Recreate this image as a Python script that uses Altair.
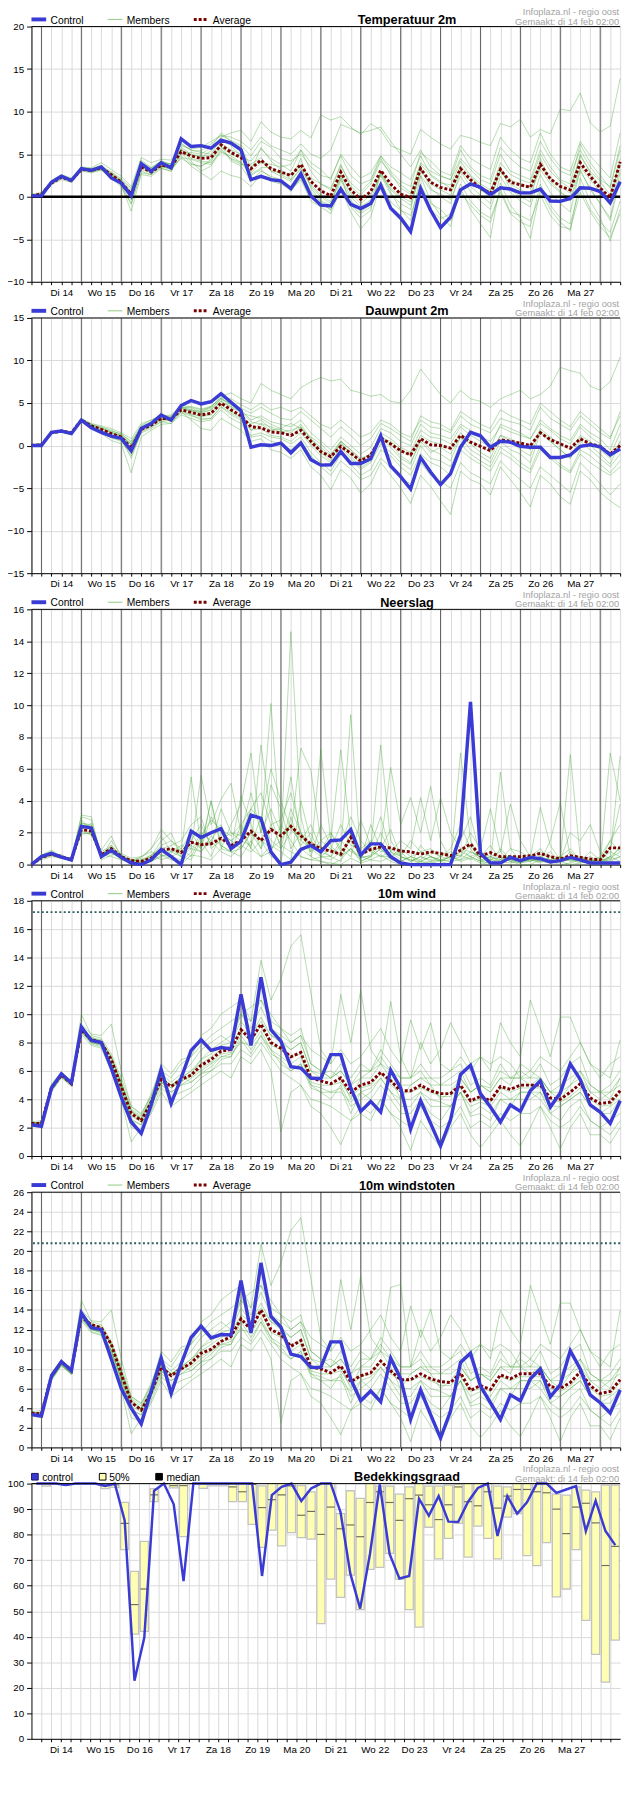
import json
import altair as alt
import pandas as pd

# ---------------- data ----------------
STEPS = list(range(60))  # 6-hourly steps, 0 = ma 13 feb 18:00
DAY_LABELS = ["Di 14", "Wo 15", "Do 16", "Vr 17", "Za 18", "Zo 19", "Ma 20",
              "Di 21", "Wo 22", "Do 23", "Vr 24", "Za 25", "Zo 26", "Ma 27"]
DAY_LINES = [1, 5, 9, 13, 17, 21, 25, 29, 33, 37, 41, 45, 49, 53, 57]
TITLES = ["Temperatuur 2m", "Dauwpunt 2m", "Neerslag", "10m wind", "10m windstoten", "Bedekkingsgraad"]
SOURCE_1 = "Infoplaza.nl - regio oost"
SOURCE_2 = "Gemaakt: di 14 feb 02:00"

TEMP_CONTROL = [0.1,0.1,1.7,2.4,1.9,3.3,3.1,3.5,2.2,1.6, 0.1,3.9,3.0,4.0,3.4,6.8,5.9,6.0,5.7,6.65,
                6.3,5.5,2.0,2.4,2.0,1.85,0.95,2.7,0.1,-1.0, -1.1,0.9,-0.9,-1.4,-0.8,1.35,-1.35,-2.5,-4.1,0.95,
                -1.6,-3.65,-2.4,0.8,1.5,1.1,0.25,1.05,0.9,0.45, 0.45,0.9,-0.5,-0.55,-0.2,1.05,1.0,0.6,-0.7,1.75]
TEMP_AVERAGE = [0.1,0.3,1.6,2.3,1.9,3.2,3.1,3.4,2.6,1.7, 0.3,3.5,2.9,3.7,3.5,5.3,4.8,4.5,4.6,6.1,
                5.2,4.6,3.3,4.3,3.3,2.9,2.5,3.8,1.8,0.7, 0.1,2.9,0.8,-0.3,0.6,3.1,1.5,0.3,-0.1,3.3,
                1.7,1.1,0.8,3.3,2.0,1.0,0.4,3.2,1.7,1.4, 1.1,3.8,2.1,1.2,0.8,4.0,2.4,1.0,-0.1,4.1]
TEMP_MEMBERS = [
    [0.2,0.4,1.8,2.5,2.0,3.4,3.0,3.6,2.8,2.0, 0.8,4.3,3.4,4.2,3.8,5.8,5.0,4.6,5.4,7.0, 7.5,7.8,6.5,8.8,7.6,7.0,6.8,7.8,6.9,9.6,
     9.0,9.4,8.2,7.3,8.6,7.8,6.0,5.5,5.0,7.9, 7.0,6.2,5.6,7.2,6.9,6.4,6.0,8.6,8.2,9.1, 7.0,7.9,7.4,10.3,10.1,12.2,8.7,7.6,8.3,13.9],
    [0.0,0.2,1.5,2.2,1.8,3.0,2.8,3.2,2.4,1.3, -1.7,2.6,2.4,3.3,3.0,5.6,4.2,3.0,3.6,5.4, 4.5,4.0,3.0,5.8,4.2,3.2,2.0,4.5,1.0,-0.5,
     -1.0,2.5,-1.2,-2.5,-1.6,3.0,0.5,-1.5,-2.8,2.4, -0.5,-2.2,-3.5,1.0,-1.5,-3.2,-4.8,1.6,-1.0,-2.5, -4.9,0.8,-1.5,-3.0,-4.0,2.2,-0.5,-2.5,-5.2,-1.5],
    [0.1,0.3,1.7,2.4,1.9,3.3,3.3,3.4,2.5,1.8, 0.4,3.7,3.1,3.5,3.4,5.0,5.2,5.0,5.8,7.5, 6.5,5.8,3.5,4.2,3.0,2.8,2.6,3.6,2.2,1.5,
     0.8,3.6,1.6,0.6,1.8,4.5,2.5,1.4,0.5,4.0, 3.0,2.4,2.0,4.5,3.2,2.0,1.5,5.0,3.0,2.5, 2.0,5.5,3.5,2.0,1.5,6.2,4.0,2.5,1.0,5.5],
    [0.2,0.2,1.6,2.3,2.1,3.2,3.1,3.5,2.6,1.5, 0.0,3.2,2.8,3.9,3.6,5.5,4.5,4.2,4.0,5.2, 4.8,4.0,2.5,3.2,2.2,1.8,1.2,3.0,0.6,-0.6,
     -1.6,2.0,-0.4,-1.8,-0.9,2.5,0.3,-0.8,-1.5,3.5, 1.0,0.0,-0.8,3.0,1.2,0.2,-0.8,3.5,0.8,0.0, -0.6,4.5,1.8,0.6,-0.5,3.0,1.0,-0.8,-2.5,2.8],
    [0.0,0.1,1.4,2.0,1.7,3.1,2.9,3.1,2.2,1.7, 0.6,3.5,3.2,3.6,3.2,4.5,3.8,3.6,4.2,5.8, 5.0,4.6,4.2,5.6,4.5,3.8,3.0,5.5,3.0,1.5,
     1.0,3.8,1.2,0.2,1.5,4.2,2.8,1.0,0.3,3.8, 2.5,1.6,1.4,4.2,2.5,1.5,0.8,3.0,2.0,1.5, 1.0,3.5,2.2,1.2,0.4,5.0,2.8,1.2,-0.5,4.5],
    [0.1,0.2,1.7,2.5,2.0,3.3,3.2,3.3,2.7,1.9, -0.4,3.6,3.0,3.8,3.7,5.6,4.9,4.8,4.8,6.3, 5.5,5.0,2.6,3.4,3.5,2.6,2.0,3.2,1.4,0.2,
     -0.6,2.6,0.4,-0.8,0.2,2.6,0.8,-0.2,-1.0,2.5, 0.8,0.3,-0.3,2.4,0.6,-0.5,-1.5,2.4,0.5,-0.5, -1.2,2.6,0.5,-0.8,-1.8,3.2,0.8,-0.8,-2.8,2.0],
    [0.3,0.5,1.9,2.6,2.2,3.5,3.4,4.0,3.2,2.4, 1.2,4.6,4.0,4.4,4.3,6.0,5.6,5.8,6.5,7.2, 7.0,6.5,5.5,7.0,6.0,5.5,5.0,6.2,5.0,4.5,
     5.5,8.5,8.0,7.5,7.8,8.2,6.5,5.0,3.5,5.5, 3.5,2.5,2.0,5.5,3.5,2.5,2.0,5.8,4.5,3.5, 3.0,6.5,4.5,3.0,2.5,5.5,3.5,2.0,1.2,6.0],
    [0.1,0.3,1.6,2.3,1.8,3.2,3.0,3.3,2.3,1.4, -0.8,3.0,2.6,3.4,3.0,4.8,3.6,2.8,2.0,3.0, 2.5,2.2,1.2,2.6,1.8,1.5,0.8,2.0,-0.5,-1.2,
     -2.0,1.0,-1.8,-3.8,-2.4,1.5,-1.5,-2.8,-4.4,1.0, -1.5,-2.6,-2.0,1.5,-0.5,-1.8,-2.5,0.5,-2.0,-3.0, -3.5,1.5,-1.0,-2.5,-3.2,1.2,-1.5,-3.0,-4.2,-0.5],
    [0.0,0.2,1.6,2.4,1.9,3.1,3.2,3.6,2.9,2.1, 1.0,3.8,3.3,3.9,3.9,6.2,5.5,5.2,5.0,6.8, 6.0,4.8,2.8,4.0,3.8,3.5,3.8,5.5,4.0,3.2,
     2.0,5.0,3.5,2.2,2.8,4.8,3.0,1.8,1.2,5.2, 4.2,3.0,2.5,6.0,4.5,3.8,3.2,7.0,5.5,4.5, 4.0,7.5,5.0,3.5,3.0,6.5,4.8,3.5,2.2,7.5],
    [0.1,0.1,1.5,2.2,1.7,3.3,2.9,3.2,2.1,1.2, -0.9,2.8,2.6,3.6,3.2,5.2,3.9,3.5,4.4,6.0, 4.2,3.6,1.8,3.0,2.4,2.0,0.6,2.2,-0.2,-0.8,
     -1.5,1.2,-1.0,-2.0,-1.2,1.8,-0.6,-1.6,-2.2,1.4, -0.8,-1.5,-2.8,0.5,-1.0,-2.2,-3.0,0.8,-1.8,-2.2, -2.8,0.2,-2.2,-3.5,-3.8,0.5,-1.8,-3.5,-4.8,-2.0],
    [0.2,0.4,1.8,2.5,2.1,3.4,3.3,3.7,2.7,1.8, 0.5,4.1,3.4,4.2,3.8,6.3,5.4,5.4,6.2,7.2, 6.6,6.0,4.8,6.5,5.8,4.5,4.2,5.0,3.5,2.5,
     2.2,4.8,2.5,1.5,2.0,4.8,3.5,2.8,2.0,4.8, 2.6,1.8,1.0,3.6,2.4,1.2,0.6,4.0,2.6,2.0, 1.6,5.0,3.0,1.8,1.0,4.8,3.0,1.8,0.2,4.0],
    [0.0,0.2,1.6,2.3,1.8,3.2,3.0,3.4,2.5,1.6, 0.2,3.4,2.9,3.7,3.3,4.6,4.4,4.0,3.8,5.6, 4.4,3.8,3.8,4.6,3.0,2.4,1.8,3.4,1.2,0.0,
     -0.8,2.2,0.0,-1.2,-0.4,2.8,1.0,0.0,-0.6,3.0, 1.5,0.8,0.2,3.2,1.8,0.8,0.0,3.0,1.5,0.8, 0.4,3.2,1.5,0.5,-0.2,3.5,2.0,0.5,-1.0,3.2],
]

DEW_CONTROL = [0.0,0.0,1.55,1.7,1.4,3.0,2.1,1.55,1.1,0.85, -0.6,2.0,2.6,3.6,3.0,4.7,5.3,4.9,5.15,6.1,
               5.1,4.1,-0.2,0.1,0.0,0.3,-0.85,0.3,-1.65,-2.3, -2.25,-0.7,-2.1,-2.1,-1.55,1.15,-2.4,-3.65,-5.1,-1.4,
               -3.1,-4.6,-3.3,-0.2,1.55,1.15,-0.2,0.5,0.4,-0.1, -0.2,-0.2,-1.4,-1.4,-1.1,-0.1,0.1,-0.15,-1.1,-0.4]
DEW_AVERAGE = [0.0,0.1,1.5,1.7,1.5,3.0,2.3,1.9,1.4,1.0, -0.3,1.9,2.4,3.2,3.1,4.2,3.9,3.6,3.8,5.0,
               4.2,3.5,2.2,2.1,1.6,1.5,1.2,1.8,0.5,-0.7, -1.3,-0.1,-0.9,-1.8,-1.1,0.9,0.2,-0.6,-1.1,0.8,
               0.1,0.0,-0.3,1.2,0.4,-0.1,-0.6,0.7,0.5,0.3, 0.0,1.5,0.7,0.2,-0.3,0.8,0.2,-0.1,-1.0,0.0]
DEW_MEMBERS = [
    [0.1,0.2,1.6,1.8,1.6,3.1,2.5,2.2,1.8,1.3, 0.5,2.4,3.0,3.5,3.6,4.8,4.5,4.2,4.5,5.8, 6.2,5.5,5.0,7.3,6.5,6.0,5.5,6.8,7.5,8.0,
     7.6,7.8,6.5,6.2,5.8,6.0,5.2,5.0,6.5,9.0, 7.5,6.0,5.0,6.5,5.5,5.2,4.5,5.5,6.0,6.5, 5.5,6.0,7.0,9.2,8.8,8.5,7.0,6.5,7.5,10.4],
    [-0.1,0.0,1.4,1.6,1.3,2.8,2.0,1.4,0.6,0.2, -3.2,1.0,1.8,2.5,2.6,4.0,3.0,2.0,1.8,3.2, 2.5,1.8,0.5,0.8,-0.5,-0.8,-1.5,-0.5,-2.5,-3.5,
     -5.2,-2.8,-3.8,-5.6,-4.5,-2.0,-3.5,-5.0,-6.8,-3.5, -4.8,-6.5,-8.1,-3.0,-4.0,-4.5,-5.8,-2.5,-4.0,-5.5, -7.2,-3.5,-4.5,-6.0,-6.9,-3.0,-4.0,-5.5,-6.5,-7.3],
    [0.0,0.1,1.5,1.7,1.5,3.0,2.4,2.0,1.5,1.1, 0.0,2.2,2.5,3.0,3.3,4.5,4.2,3.8,4.2,5.5, 4.8,4.2,3.0,3.5,2.8,2.5,2.2,3.0,1.5,0.5,
     -0.5,1.0,0.0,-1.0,-0.2,2.0,1.5,0.5,0.0,2.5, 1.5,1.2,0.8,2.5,1.8,1.0,0.5,2.2,1.6,1.2, 0.8,3.0,2.0,1.2,0.6,2.5,1.5,0.8,-0.5,2.5],
    [0.1,0.1,1.6,1.7,1.4,3.1,2.2,1.7,1.2,0.8, -1.5,1.6,2.2,3.3,2.8,3.8,3.5,3.2,3.2,4.5, 3.6,3.0,1.2,1.5,1.0,0.8,0.2,1.0,-0.8,-2.0,
     -3.0,-1.0,-2.2,-3.5,-2.8,-0.5,-1.2,-2.5,-3.5,-1.0, -2.0,-2.5,-3.5,-0.5,-1.5,-2.2,-3.0,-0.8,-1.5,-2.5, -3.2,-0.5,-1.5,-2.5,-3.2,-1.0,-2.0,-2.8,-3.5,-2.5],
    [0.0,0.0,1.4,1.7,1.6,2.9,2.3,1.8,1.3,1.0, 0.2,2.3,2.8,3.0,3.2,4.4,4.0,3.5,3.8,5.2, 4.5,3.8,3.5,3.2,2.5,2.0,2.6,2.0,1.0,0.2,
     -1.0,0.5,-0.5,-1.5,-1.0,1.2,0.2,-1.2,-2.0,0.5, -0.8,-0.2,-1.0,1.0,-0.5,-1.2,-2.0,0.5,-0.5,-1.0, -2.0,1.5,0.5,-0.5,-1.5,0.5,-0.5,-1.5,-2.5,-1.0],
    [0.1,0.2,1.5,1.8,1.5,3.2,2.6,2.3,2.0,1.5, 0.8,2.6,3.0,3.6,3.4,4.5,4.2,4.0,4.6,5.6, 5.5,4.8,4.2,5.0,4.2,4.5,4.0,4.5,3.5,2.5,
     2.0,3.0,2.0,1.0,1.5,3.0,2.5,1.5,1.0,3.0, 2.2,2.0,1.5,3.5,2.5,2.0,1.5,3.2,2.8,2.5, 1.8,4.5,3.2,2.5,1.8,3.5,2.5,1.5,0.8,4.0],
    [0.0,0.1,1.6,1.6,1.4,3.0,2.1,1.6,1.0,0.6, -0.8,1.8,2.2,2.8,3.0,4.0,3.6,3.0,3.2,4.6, 3.8,3.2,1.8,2.0,1.2,1.0,0.5,1.5,0.0,-1.2,
     -2.0,-0.2,-1.5,-2.8,-2.0,0.2,-0.8,-2.0,-2.8,0.0, -1.5,-1.8,-2.5,0.2,-1.0,-1.8,-2.5,-0.2,-1.0,-2.0, -2.8,0.0,-1.2,-2.2,-3.0,-0.5,-1.2,-2.2,-3.2,-1.8],
    [0.1,0.1,1.5,1.7,1.5,3.0,2.4,2.0,1.6,1.2, 0.2,2.0,2.6,3.4,3.2,4.3,4.1,3.9,4.2,5.2, 4.6,4.0,2.8,2.5,1.8,2.0,1.5,2.5,0.8,-0.5,
     -1.5,0.2,-0.8,-2.2,-1.4,1.5,0.8,-0.2,-0.8,1.8, 1.0,0.8,0.2,2.2,1.2,0.5,-0.2,2.5,2.0,1.5, 0.8,2.6,1.8,0.8,0.2,2.2,1.0,0.2,-1.2,1.5],
    [0.0,0.0,1.5,1.7,1.4,3.0,2.2,1.6,1.2,0.9, -1.0,2.1,2.7,3.8,3.1,4.4,4.6,4.3,4.6,5.6, 4.8,3.9,1.8,2.6,2.2,1.8,1.0,2.2,0.2,-0.8,
     -1.8,0.5,-1.2,-2.6,-1.8,1.0,-0.2,-1.5,-2.2,0.8, -0.5,-1.0,-1.8,1.0,0.2,-0.8,-1.5,1.2,0.5,-0.5, -1.2,1.8,0.5,-0.5,-1.5,1.0,0.0,-1.0,-2.2,0.5],
    [0.1,0.2,1.6,1.8,1.6,3.1,2.5,2.1,1.7,1.4, 0.4,2.1,2.5,3.2,3.5,4.6,4.4,4.0,4.4,5.4, 5.0,4.4,3.8,4.5,3.8,3.2,3.0,4.0,3.0,2.0,
     1.0,2.2,1.2,0.0,0.8,2.6,2.0,1.2,0.5,3.5, 2.8,2.5,1.8,4.0,3.2,2.5,2.0,4.2,3.5,3.0, 2.5,5.0,4.0,3.0,2.2,4.0,3.0,2.0,1.0,3.5],
    [0.0,0.1,1.4,1.6,1.3,2.9,2.0,1.5,0.9,0.5, -1.2,1.5,2.0,2.8,2.6,3.6,3.2,2.8,3.0,4.2, 3.2,2.6,1.0,1.2,0.5,0.2,-0.5,0.5,-1.2,-2.5,
     -3.5,-1.8,-2.8,-4.0,-3.5,-1.5,-2.5,-3.8,-4.5,-2.0, -3.5,-4.2,-5.0,-2.0,-3.2,-3.8,-4.5,-1.8,-3.0,-4.0, -5.0,-2.5,-3.5,-4.5,-5.5,-2.0,-3.2,-4.5,-5.8,-4.5],
    [0.1,0.1,1.6,1.7,1.5,3.0,2.3,2.0,1.5,1.2, 0.1,2.0,2.4,3.1,3.0,4.1,3.7,3.4,3.6,4.8, 4.0,3.4,2.5,3.0,2.0,1.6,1.8,2.2,0.8,-0.2,
     -1.2,0.5,-0.5,-1.8,-1.0,0.8,0.5,-0.5,-1.2,1.2, 0.5,0.2,-0.5,1.5,0.5,0.0,-0.8,1.2,0.8,0.2, -0.5,2.0,1.0,0.2,-0.5,1.2,0.5,-0.5,-1.5,0.5],
]

RAIN_CONTROL = [0.0,0.5,0.7,0.47,0.3,2.4,2.3,0.5,0.9,0.45, 0.1,0.0,0.3,0.95,0.5,0.0,2.1,1.7,2.0,2.25,
                1.0,1.45,3.1,2.9,0.8,0.0,0.15,0.95,1.2,0.8, 1.5,1.55,2.2,0.6,1.3,1.3,0.5,0.1,0.0,0.0,
                0.0,0.0,0.0,1.85,10.2,0.7,0.1,0.1,0.45,0.25, 0.45,0.37,0.17,0.25,0.45,0.3,0.1,0.1,0.1,0.1]
RAIN_AVERAGE = [0.0,0.45,0.65,0.5,0.3,2.2,2.1,0.6,1.0,0.5, 0.25,0.2,0.4,0.9,1.0,0.75,1.4,1.25,1.3,1.65,
                1.2,1.5,2.1,1.5,2.2,1.8,2.4,1.8,1.3,1.0, 0.85,0.65,1.7,0.65,0.95,1.1,1.05,0.85,0.8,0.65,
                0.8,0.7,0.55,0.9,1.3,0.55,0.75,0.5,0.5,0.5, 0.55,0.7,0.5,0.35,0.55,0.45,0.35,0.3,1.05,1.05]
RAIN_MEMBERS = [
    [0.0,0.6,0.9,0.5,0.3,3.1,3.0,0.4,1.5,0.6, 0.2,0.5,1.0,2.2,1.5,0.8,5.5,1.2,4.0,1.0, 2.5,3.8,7.0,2.0,10.1,1.5,14.6,3.0,0.5,0.2,
     0.0,0.3,1.0,0.2,0.5,2.0,0.8,0.3,0.0,1.2, 0.5,0.2,0.0,1.0,0.5,0.2,0.1,0.5,0.2,0.0, 0.0,0.3,0.2,0.0,0.1,0.3,0.0,0.0,7.0,4.0],
    [0.0,0.4,0.6,0.4,0.3,2.0,1.9,0.6,0.5,0.3, 0.1,0.0,0.2,0.5,0.8,1.2,1.0,5.6,2.5,4.1, 5.1,2.0,1.0,7.5,3.0,1.0,2.0,7.3,5.9,1.5,
     2.0,0.8,9.4,0.5,1.0,7.5,1.5,0.5,0.3,0.1, 0.2,0.0,0.0,7.0,1.5,0.3,0.2,5.8,1.0,0.2, 0.5,1.0,0.2,0.3,6.9,0.5,0.2,0.1,0.5,6.8],
    [0.0,0.5,0.7,0.6,0.2,2.6,2.5,0.8,1.2,0.4, 0.3,0.2,0.5,1.5,2.0,0.5,1.2,0.8,1.5,2.5, 1.0,4.3,2.5,1.0,5.0,3.5,1.0,2.0,0.8,7.2,
     1.5,7.2,1.8,0.4,0.6,1.2,6.1,2.5,4.2,2.0, 4.9,1.5,0.3,0.5,2.0,1.0,3.5,0.8,3.8,1.5, 0.5,3.6,1.2,0.3,2.0,1.5,2.5,0.8,0.3,1.2],
    [0.0,0.3,0.5,0.4,0.4,1.9,2.0,0.5,0.8,0.3, 0.2,0.3,0.6,0.3,0.5,0.0,0.6,0.5,0.3,1.0, 0.8,0.5,1.5,0.5,0.8,2.5,1.5,0.5,0.3,0.2,
     0.1,0.0,0.4,0.1,0.3,0.6,0.2,0.0,0.0,0.2, 0.1,0.3,0.5,0.2,0.4,0.1,0.0,0.2,0.3,0.1, 0.2,0.5,0.1,0.2,0.0,0.1,0.3,0.2,0.5,0.2],
    [0.0,0.5,0.8,0.5,0.3,2.8,2.2,0.7,1.0,0.5, 0.2,0.1,0.3,1.0,1.2,1.5,2.5,3.0,1.0,1.5, 2.0,1.8,3.5,2.8,6.0,4.0,2.2,1.5,2.5,1.0,
     0.5,1.2,3.0,1.5,0.8,0.5,0.8,1.5,1.0,4.2, 1.5,4.2,2.0,1.0,0.8,0.5,1.2,0.3,1.0,0.8, 0.4,0.2,1.5,3.9,0.5,0.2,0.8,0.3,1.0,3.8],
    [0.0,0.4,0.7,0.6,0.2,2.2,2.6,0.3,0.6,0.7, 0.4,0.5,0.8,0.6,0.3,0.2,0.8,2.0,1.5,0.8, 0.5,1.2,0.8,1.5,0.5,0.2,3.0,1.0,0.5,2.5,
     1.2,0.5,1.0,0.3,2.5,1.0,0.4,0.2,0.5,0.3, 0.8,0.5,1.0,2.5,1.0,0.2,0.5,0.3,0.6,0.2, 0.3,0.1,0.5,0.2,0.8,0.3,0.1,0.4,0.2,0.5],
    [0.0,0.5,0.6,0.5,0.3,2.4,1.8,0.9,1.8,0.4, 0.1,0.2,0.4,0.8,0.5,0.3,1.5,1.0,4.0,1.2, 0.8,2.5,1.0,0.5,1.2,0.8,0.3,4.0,1.5,0.8,
     2.0,1.0,0.5,2.8,1.2,3.0,0.8,0.5,0.3,0.2, 0.5,0.3,0.2,0.3,0.8,0.5,0.3,0.2,0.5,0.3, 0.5,0.3,0.2,0.5,0.3,0.2,0.3,0.2,1.5,0.8],
    [0.0,0.6,0.8,0.4,0.3,3.0,2.8,0.5,1.2,0.6, 0.3,0.4,1.0,1.8,0.8,0.5,0.3,1.5,0.5,2.0, 1.5,1.0,2.0,1.0,2.5,1.2,0.8,0.5,0.3,0.5,
     0.3,0.8,1.5,0.5,0.3,0.2,0.5,0.8,0.2,0.5, 0.3,0.2,0.5,0.6,0.3,0.8,0.5,0.2,0.1,0.3, 0.2,0.5,0.3,0.2,0.3,0.4,0.2,0.1,0.4,0.8],
    [0.0,0.5,0.7,0.5,0.3,2.5,2.4,0.6,0.9,0.5, 0.2,0.3,0.5,1.2,1.5,1.0,2.0,1.0,3.0,2.0, 1.5,2.0,4.5,2.0,3.5,2.0,5.5,1.5,1.0,0.5,
     0.5,0.2,2.0,0.2,0.5,1.0,2.2,0.5,0.2,0.5, 0.2,0.5,0.3,1.5,3.0,0.5,0.2,1.0,0.3,0.2, 0.5,0.8,0.3,0.5,1.0,0.3,0.2,0.5,1.5,2.5],
    [0.0,0.4,0.6,0.5,0.3,2.3,2.0,0.5,0.7,0.4, 0.1,0.1,0.2,0.6,0.5,0.8,1.5,2.5,1.2,3.5, 2.0,1.5,1.2,3.0,1.5,1.0,3.5,2.0,1.2,0.8,
     0.5,1.5,0.8,0.5,0.5,1.0,0.3,0.2,0.5,0.8, 0.5,0.3,0.2,0.8,0.5,0.2,0.1,0.3,0.5,0.2, 0.3,0.2,0.3,0.5,0.2,0.3,0.5,0.2,0.3,0.5],
    [0.0,0.5,0.8,0.5,0.3,2.6,2.4,0.7,1.1,0.5, 0.3,0.2,0.6,1.0,0.8,1.0,0.5,1.8,2.8,2.2, 1.8,2.5,3.5,4.5,2.5,2.8,4.5,2.0,0.8,1.5,
     1.0,2.5,1.2,1.0,1.5,0.8,1.0,0.5,1.5,0.8, 1.0,0.5,0.8,0.5,1.2,0.3,0.5,0.8,0.2,0.5, 0.3,0.5,0.8,0.2,0.5,0.5,0.3,0.2,0.5,1.0],
    [0.0,0.4,0.6,0.4,0.3,2.1,1.9,0.5,0.8,0.4, 0.2,0.1,0.3,0.8,1.0,0.5,1.0,0.8,1.8,1.2, 0.8,1.0,2.0,1.5,1.0,1.5,2.5,1.2,2.0,0.5,
     1.0,0.5,1.0,0.5,1.0,0.5,0.5,1.0,0.5,0.2, 0.5,0.2,0.5,0.3,0.5,0.8,0.3,0.5,0.2,0.1, 0.3,0.2,0.1,0.2,0.3,0.1,0.2,0.3,0.8,0.5],
]

WIND_CONTROL = [2.2,2.1,4.8,5.8,5.15,9.1,8.15,8.0,6.2,4.15, 2.4,1.6,3.6,6.1,3.7,5.5,7.45,8.2,7.45,7.65,
                7.55,11.4,7.8,12.6,8.9,8.1,6.3,6.2,5.5,5.45, 7.15,7.15,4.8,3.15,3.85,3.1,6.05,4.8,1.9,3.9,
                2.3,0.7,2.55,5.75,6.4,4.4,3.45,2.4,3.6,3.15, 4.6,5.3,3.45,4.45,6.5,5.4,3.6,3.1,2.3,3.9]
WIND_AVERAGE = [2.3,2.3,4.8,5.7,5.1,8.9,8.2,8.0,6.8,4.9, 3.0,2.5,3.8,5.4,4.9,5.4,5.7,6.4,6.8,7.4,
                7.5,8.9,8.2,9.3,8.0,7.6,7.0,7.3,5.5,5.3, 5.1,5.5,4.5,5.0,5.2,5.9,5.3,4.6,4.6,5.0,
                4.6,4.4,4.4,5.0,3.9,4.2,3.9,4.9,4.7,5.0, 5.0,5.0,4.1,4.0,4.5,5.1,4.1,3.7,3.8,4.6]
WIND_MEMBERS = [
    [2.4,2.5,5.0,5.9,5.3,10.0,8.5,8.3,7.2,5.5, 3.5,3.0,4.2,6.5,5.8,6.8,7.0,8.5,9.0,10.0, 10.5,11.0,9.5,13.8,11.0,12.5,14.8,15.6,11.5,7.5,
     6.5,11.4,8.0,11.7,7.5,6.5,10.9,7.0,5.5,8.0, 6.5,7.5,9.4,8.0,6.5,7.0,6.0,9.4,8.0,7.0, 11.0,9.0,7.0,9.8,9.8,8.0,6.5,6.0,5.5,8.2],
    [2.1,2.0,4.5,5.5,4.9,8.6,7.8,7.6,6.0,4.0, 1.0,2.0,3.0,4.5,3.5,4.0,4.5,5.0,5.5,6.0, 5.5,7.0,6.5,7.5,6.0,1.7,4.5,5.0,3.5,3.0,
     2.0,0.8,2.5,3.0,2.5,4.0,3.0,2.0,0.4,2.5, 1.5,0.6,2.0,3.0,1.5,0.6,1.5,2.5,1.5,0.7, 2.0,3.5,2.0,0.5,2.0,3.0,1.5,1.5,0.9,2.0],
    [2.3,2.2,4.9,5.8,5.2,9.2,8.3,8.2,7.0,5.0, 3.2,2.6,4.0,5.8,5.2,5.8,6.5,7.5,8.0,8.5, 8.0,10.0,9.0,10.5,9.0,8.5,8.0,8.5,6.5,6.0,
     5.5,6.5,5.5,6.5,6.0,7.5,6.5,5.5,5.5,6.5, 5.5,5.5,6.0,6.5,5.0,5.5,5.0,6.5,5.5,6.0, 5.5,6.5,5.0,5.5,6.5,7.0,5.0,4.5,5.0,6.0],
    [2.2,2.3,4.6,5.6,5.0,8.8,8.0,7.8,6.5,4.6, 2.6,2.2,3.5,5.0,4.5,5.0,5.5,6.0,6.5,7.0, 7.0,8.5,7.5,8.5,7.5,6.5,6.0,6.5,5.0,4.5,
     4.0,5.0,3.5,4.0,4.5,5.5,4.5,3.5,3.5,4.5, 3.5,3.5,3.5,4.5,3.0,3.5,3.0,4.0,4.0,4.0, 4.0,4.5,3.0,3.5,4.0,4.5,3.5,3.0,3.0,4.0],
    [2.3,2.4,5.0,5.7,5.1,9.0,8.4,8.1,7.0,5.2, 3.3,2.8,4.2,5.6,5.0,5.2,5.8,6.8,7.2,7.8, 8.0,9.5,8.5,9.8,8.5,8.2,7.5,8.0,6.0,5.8,
     6.0,5.5,4.0,5.5,6.0,6.5,5.5,4.0,5.0,5.5, 5.0,4.0,4.5,5.5,4.5,5.0,4.5,5.5,5.0,6.5, 6.0,5.5,4.5,4.0,5.0,6.0,5.0,4.5,4.0,5.5],
    [2.2,2.1,4.7,5.6,5.0,8.7,8.0,7.9,6.6,4.7, 2.8,2.4,3.6,5.2,4.8,5.6,5.2,5.8,6.3,7.0, 7.2,8.0,7.8,8.8,7.5,7.0,6.5,7.0,5.0,4.8,
     4.5,4.8,3.0,4.5,4.0,5.0,4.0,3.0,3.0,4.0, 3.0,2.5,3.5,4.5,2.8,3.0,2.5,4.0,3.5,4.5, 4.5,4.0,3.0,2.5,3.5,4.0,2.5,2.0,2.5,3.0],
    [2.4,2.3,5.1,5.9,5.3,9.3,8.6,8.5,9.3,6.0, 3.5,2.9,4.4,6.0,5.5,6.5,7.0,7.8,8.5,9.0, 9.5,10.0,10.5,11.0,10.0,9.0,8.0,8.5,7.5,7.0,
     6.5,7.5,6.5,7.0,8.0,9.0,7.5,6.5,9.6,7.5, 9.4,6.5,6.0,7.0,6.0,7.0,6.5,7.0,6.5,5.5, 6.0,7.0,6.5,6.0,7.0,8.0,6.5,5.5,6.5,7.0],
    [2.2,2.2,4.6,5.6,5.0,8.8,7.9,7.7,6.3,4.4, 2.0,1.8,3.2,4.8,4.2,4.5,4.8,5.5,6.0,6.5, 6.5,7.5,7.0,8.0,7.0,6.0,5.5,5.0,4.0,3.8,
     3.5,3.0,2.5,3.5,3.0,4.0,3.0,2.5,2.0,3.5, 2.5,2.0,2.5,3.5,2.0,2.5,2.0,3.0,2.5,3.0, 3.0,3.5,2.5,2.0,2.5,3.5,2.5,2.0,1.5,2.5],
    [2.3,2.2,4.8,5.7,5.1,9.0,8.2,8.0,7.0,5.2, 3.2,2.7,4.0,5.5,5.0,5.5,6.0,6.8,7.5,8.0, 8.5,10.0,9.5,11.0,9.5,9.0,8.5,9.0,6.5,6.0,
     5.5,6.0,5.0,5.5,5.5,6.5,6.0,5.0,5.0,5.5, 5.5,5.0,5.0,5.5,4.5,5.0,4.5,5.5,5.5,5.5, 5.5,5.5,4.5,4.5,5.0,5.5,4.5,4.0,4.5,5.5],
    [2.2,2.1,4.7,5.6,5.0,8.9,8.1,7.9,6.5,4.5, 2.5,2.2,3.5,5.2,4.5,5.0,5.2,5.8,6.0,6.8, 7.0,8.2,7.2,8.5,7.2,6.8,6.0,6.5,4.8,4.5,
     4.5,4.5,3.8,4.5,4.8,5.5,4.5,4.0,4.0,4.5, 4.0,3.8,3.5,4.5,3.5,3.8,3.5,4.5,4.0,4.5, 4.5,4.5,3.5,3.5,4.0,4.5,3.5,3.0,3.5,4.0],
    [2.3,2.4,4.9,5.8,5.2,9.1,8.3,8.1,6.9,5.1, 3.1,2.6,3.9,5.5,5.0,5.5,6.0,6.5,7.0,7.5, 7.8,9.0,8.5,9.5,8.5,8.0,7.5,8.0,6.0,5.5,
     5.5,6.0,5.0,6.0,6.0,7.0,6.0,5.5,5.5,6.0, 5.0,5.0,5.5,6.0,4.5,5.0,4.8,6.0,5.5,5.5, 5.0,5.5,4.5,5.0,5.5,6.0,4.5,4.5,4.5,5.0],
    [2.2,2.3,4.8,5.7,5.1,8.8,8.0,7.8,6.6,4.8, 2.9,2.5,3.8,5.4,4.8,5.3,5.6,6.2,6.6,7.2, 7.3,8.8,8.0,9.2,7.8,7.5,7.0,7.2,5.2,5.0,
     5.0,5.2,4.2,4.8,5.0,5.8,5.0,4.5,4.5,4.8, 4.5,4.2,4.2,4.8,3.8,4.0,3.8,4.8,4.5,4.8, 4.8,4.8,4.0,3.8,4.2,4.8,4.0,3.5,3.6,4.4],
]
WIND_LIMIT = [17.2]

GUST_CONTROL = [3.35,3.2,7.25,8.75,7.8,13.7,12.2,12.0,9.0,6.0, 4.0,2.4,5.75,9.1,5.5,8.5,11.2,12.35,11.15,11.5,
                11.45,17.0,11.65,18.8,13.35,12.25,9.5,9.25,8.15,8.15, 10.75,10.75,6.95,4.75,5.75,4.65,9.1,7.0,2.85,5.85,
                3.35,0.95,3.7,8.65,9.6,6.25,4.55,2.85,5.35,4.75, 7.0,8.0,5.15,6.4,9.85,8.0,5.35,4.55,3.5,5.85]
GUST_AVERAGE = [3.5,3.4,7.3,8.7,7.9,13.3,12.5,12.2,10.5,7.5, 4.6,3.8,5.6,8.2,7.3,8.0,8.6,9.6,10.0,10.8,
                11.3,13.1,12.0,14.0,12.0,11.5,10.3,10.9,8.2,8.0, 7.6,8.3,6.7,7.3,7.6,8.8,7.8,6.9,6.9,7.5,
                7.0,6.7,6.6,7.6,5.8,6.3,5.9,7.4,7.0,7.5, 7.5,7.5,6.2,6.0,6.6,7.7,6.3,5.5,5.7,6.9]
GUST_MEMBERS = [
    [3.6,3.8,7.5,8.9,8.0,15.0,12.8,12.5,10.8,8.2, 5.2,4.5,6.3,9.8,8.7,10.2,10.5,12.8,13.5,15.0, 15.8,16.5,14.2,20.7,16.5,18.8,22.1,23.4,17.2,11.2,
     9.8,17.1,12.0,17.5,11.2,9.8,16.3,16.6,8.2,12.0, 9.8,11.2,13.5,12.0,9.8,10.5,9.0,14.0,12.0,10.5, 16.5,13.5,10.5,14.7,14.7,12.0,9.8,9.0,8.2,14.0],
    [3.2,3.0,6.8,8.3,7.4,12.9,11.7,11.4,9.0,6.0, 1.4,3.0,4.5,6.8,5.2,6.0,6.8,7.5,8.2,9.0, 8.2,10.5,9.8,11.2,9.0,2.5,6.8,7.5,5.2,4.5,
     3.0,1.3,3.8,4.5,3.8,6.0,4.5,3.0,0.6,3.8, 2.2,1.0,3.0,4.5,2.2,1.0,2.2,3.8,2.2,1.1, 3.0,5.2,3.0,0.6,3.0,4.5,2.2,2.2,0.8,3.0],
    [3.5,3.3,7.4,8.7,7.8,13.8,12.5,12.3,10.5,7.5, 4.8,3.9,6.0,8.7,7.8,8.7,9.8,11.2,12.0,12.8, 12.0,15.0,13.5,15.8,13.5,12.8,12.0,12.8,9.8,9.0,
     8.2,9.8,8.2,9.8,9.0,11.2,9.8,8.2,8.2,9.8, 8.2,8.2,9.0,9.8,7.5,8.2,7.5,9.8,8.2,9.0, 8.2,9.8,7.5,8.2,9.8,10.5,7.5,6.8,7.5,9.0],
    [3.3,3.4,6.9,8.4,7.5,13.2,12.0,11.7,9.8,6.9, 3.9,3.3,5.2,7.5,6.8,7.5,8.2,9.0,9.8,10.5, 10.5,12.8,11.2,12.8,11.2,9.8,9.0,9.8,7.5,6.8,
     6.0,7.5,5.2,6.0,6.8,8.2,6.8,5.2,5.2,6.8, 5.2,5.2,5.2,6.8,4.5,5.2,4.5,6.0,6.0,6.0, 6.0,6.8,4.5,5.2,6.0,6.8,5.2,4.5,4.5,6.0],
    [3.5,3.6,7.5,8.6,7.7,13.5,12.6,12.2,10.5,7.8, 5.0,4.2,6.3,8.4,7.5,7.8,8.7,10.2,10.8,11.7, 12.0,14.2,12.8,14.7,12.8,12.3,11.2,12.0,9.0,8.7,
     9.0,8.2,6.0,8.2,9.0,9.8,8.2,6.0,7.5,8.2, 7.5,6.0,6.8,8.2,6.8,7.5,6.8,8.2,7.5,9.8, 9.0,8.2,6.8,6.0,7.5,9.0,7.5,6.8,6.0,8.2],
    [3.3,3.2,7.0,8.4,7.5,13.0,12.0,11.8,9.9,7.0, 4.2,3.6,5.4,7.8,7.2,8.4,7.8,8.7,9.5,10.5, 10.8,12.0,11.7,13.2,11.2,10.5,9.8,10.5,7.5,7.2,
     6.8,7.2,4.5,6.8,6.0,7.5,6.0,4.5,4.5,6.0, 4.5,3.8,5.2,6.8,4.2,4.5,3.8,6.0,5.2,6.8, 6.8,6.0,4.5,3.8,5.2,6.0,3.8,3.0,3.8,4.5],
    [3.6,3.5,7.6,8.9,8.0,14.0,12.9,12.8,14.0,9.0, 5.2,4.4,6.6,9.0,8.2,9.8,10.5,11.7,12.8,13.5, 14.2,15.0,15.8,16.5,15.0,13.5,12.0,12.8,11.2,10.5,
     9.8,11.2,9.8,10.5,12.0,13.5,11.2,9.8,14.4,11.2, 14.1,9.8,9.0,10.5,9.0,10.5,9.8,10.5,9.8,8.2, 9.0,10.5,9.8,9.0,10.5,12.0,9.8,8.2,9.8,10.5],
    [3.3,3.3,6.9,8.4,7.5,13.2,11.8,11.5,9.5,6.6, 3.0,2.7,4.8,7.2,6.3,6.8,7.2,8.2,9.0,9.8, 9.8,11.2,10.5,12.0,10.5,9.0,8.2,7.5,6.0,5.7,
     5.2,4.5,3.8,5.2,4.5,6.0,4.5,3.8,3.0,5.2, 3.8,3.0,3.8,5.2,3.0,3.8,3.0,4.5,3.8,4.5, 4.5,5.2,3.8,3.0,3.8,5.2,3.8,3.0,2.2,3.8],
    [3.5,3.3,7.2,8.6,7.7,13.5,12.3,12.0,10.5,7.8, 4.8,4.0,6.0,8.2,7.5,8.2,9.0,10.2,11.2,12.0, 12.8,15.0,14.2,16.5,14.2,13.5,12.8,13.5,9.8,9.0,
     8.2,9.0,7.5,8.2,8.2,9.8,9.0,7.5,7.5,8.2, 8.2,7.5,7.5,8.2,6.8,7.5,6.8,8.2,8.2,8.2, 8.2,8.2,6.8,6.8,7.5,8.2,6.8,6.0,6.8,8.2],
    [3.3,3.2,7.0,8.4,7.5,13.3,12.2,11.8,9.8,6.8, 3.8,3.3,5.2,7.8,6.8,7.5,7.8,8.7,9.0,10.2, 10.5,12.3,10.8,12.8,10.8,10.2,9.0,9.8,7.2,6.8,
     6.8,6.8,5.7,6.8,7.2,8.2,6.8,6.0,6.0,6.8, 6.0,5.7,5.2,6.8,5.2,5.7,5.2,6.8,6.0,6.8, 6.8,6.8,5.2,5.2,6.0,6.8,5.2,4.5,5.2,6.0],
    [3.5,3.6,7.4,8.7,7.8,13.6,12.4,12.2,10.4,7.6, 4.6,3.9,5.8,8.2,7.5,8.2,9.0,9.8,10.5,11.2, 11.7,13.5,12.8,14.2,12.8,12.0,11.2,12.0,9.0,8.2,
     8.2,9.0,7.5,9.0,9.0,10.5,9.0,8.2,8.2,9.0, 7.5,7.5,8.2,9.0,6.8,7.5,7.2,9.0,8.2,8.2, 7.5,8.2,6.8,7.5,8.2,9.0,6.8,6.8,6.8,7.5],
    [3.3,3.4,7.2,8.5,7.6,13.2,12.0,11.7,9.9,7.2, 4.4,3.8,5.7,8.1,7.2,8.0,8.4,9.3,9.9,10.8, 11.0,13.2,12.0,13.8,11.7,11.2,10.5,10.8,7.8,7.5,
     7.5,7.8,6.3,7.2,7.5,8.7,7.5,6.8,6.8,7.2, 6.8,6.3,6.3,7.2,5.7,6.0,5.7,7.2,6.8,7.2, 7.2,7.2,6.0,5.7,6.3,7.2,6.0,5.2,5.4,6.6],
]
GUST_LIMIT = [20.8]

COVER_CONTROL = [100,100,100,99.4,100,100,100,99.1,100,85.6, 22.8,39.7,97.2,100,91.9,61.8,100,100,100,100,
                 100,100,100,63.8,95.5,98.7,100,93.2,98.1,100, 100,88.8,64.7,51.0,72.4,99.7,72.4,62.8,63.8,94.1,
                 87.4,95.1,85.1,85.0,92.9,98.3,100,79.5,95.1,88.2, 92.7,100,100,96.4,97.7,99.0,81.4,93.3,81.4,75.9]
COVER_P25 = [100,99,100,99.5,100,100,100,98,98.5,74.1, 41.0,42.1,92.9,100,98.3,79.2,100,98.1,99.1,99.1,
             92.9,92.9,84.0,75.0,81.8,75.6,80.8,78.8,78.2,45.1, 62.6,55.4,64.1,50.6,66.4,67.2,72.7,62.6,50.6,43.8,
             82.9,70.5,78.5,84.4,71.2,83.3,78.5,70.5,86.9,88.2, 71.8,67.9,76.9,55.6,58.7,74.1,46.4,33.1,22.2,38.7]
COVER_P75 = [100,100,100,100,100,100,100,100,100,92.6, 65.6,77.4,98,100,100,100,100,100,100,100,
             100,100,100,99.1,100,100,100,99.2,96.8,100, 100,88.2,97.2,94.2,100,99,99,95.9,98.7,100,
             99,99,99.4,99.7,100,100,100,99,98.7,100, 100,100,100,95.9,95.5,98.7,97.4,96.8,99.4,99.4]
COVER_MEDIAN = [100,100,100,100,100,100,100,99.5,99.5,84.4, 52.6,58.7,95.6,100,99.2,99.2,100,100,100,100,
                98.7,96.8,99.7,90.6,93.7,95.6,99.1,87.6,89.1,80.1, 90.8,82.3,83.8,79.2,92.6,96.8,92.6,85.6,94.1,95.5,
                91.7,85.9,91.7,98.7,92.9,91.3,96.8,90.4,95.1,97.7, 97.7,96.8,96.4,90.0,80.4,90.8,92.3,84.6,67.9,75.4]

# ---------------- style ----------------
W, H = 602, 261
FONT = "Liberation Sans"
BLUE = "#3a3ad4"
AVG = "#7a0000"
GREEN = "#45a836"
GRID = "#d9d9d9"
DAYLINE = "#5c5c5c"
LIMIT = "#2c5c5c"
ONE = pd.DataFrame({"k": [0]})


def txt(s, x, y, **kw):
    return alt.Chart(ONE).mark_text(text=s, font=FONT, **kw).encode(x=alt.value(x), y=alt.value(y))


def seg(x1, x2, y, **kw):
    return alt.Chart(ONE).mark_rule(**kw).encode(x=alt.value(x1), x2=alt.value(x2), y=alt.value(y))


def common_header(title):
    return [
        txt(title, 384, -2.7, align="center", baseline="alphabetic", fontSize=13, fontWeight="bold", color="black"),
        txt(SOURCE_1, W - 1, -11.4, align="right", baseline="alphabetic", fontSize=9.5, color="#a3a3a3"),
        txt(SOURCE_2, W - 1, -2.0, align="right", baseline="alphabetic", fontSize=9.5, color="#a3a3a3"),
        alt.Chart(ONE).mark_rule(color="black", strokeWidth=1).encode(
            x=alt.value(0), x2=alt.value(W), y=alt.value(0)),
    ]


def line_legend():
    return [
        seg(0, 15, -7.3, color=BLUE, strokeWidth=4),
        txt("Control", 19.5, -3, align="left", baseline="alphabetic", fontSize=10.5, color="black"),
        seg(78, 93, -7.3, color="#8fcc80", strokeWidth=1),
        txt("Members", 97.5, -3, align="left", baseline="alphabetic", fontSize=10.5, color="black"),
        seg(166, 180.5, -7.3, color=AVG, strokeWidth=3, strokeDash=[3, 2]),
        txt("Average", 185.5, -3, align="left", baseline="alphabetic", fontSize=10.5, color="black"),
    ]


def day_label_expr(first):
    return (f"(datum.value - {first}) % 4 == 0 && datum.value <= {first + 52} ? "
            f"{json.dumps(DAY_LABELS)}[(datum.value - {first}) / 4] : ''")


def ens_panel(title, control, average, members, ydomain, yvalues, zero=False, limit=None):
    xscale = alt.Scale(domain=[0, 59], nice=False, zero=False)
    yscale = alt.Scale(domain=ydomain, nice=False, zero=False)
    xaxis = alt.Axis(values=STEPS, labelExpr=day_label_expr(3), title=None, grid=True,
                     tickSize=3, labelPadding=3, labelOverlap=False, labelFlush=False)
    yaxis = alt.Axis(values=yvalues, title=None, grid=True, tickSize=5, labelPadding=3)
    X = alt.X("step:Q", scale=xscale, axis=xaxis)

    mem_rows = [{"step": s, "value": v, "member": f"m{i + 1}"}
                for i, m in enumerate(members) for s, v in zip(STEPS, m)]
    df_mem = pd.DataFrame(mem_rows)
    df_main = pd.DataFrame({"step": STEPS, "control": control, "average": average})

    layers = [
        alt.Chart(pd.DataFrame({"step": DAY_LINES})).mark_rule(color=DAYLINE, strokeWidth=1).encode(x=X),
        alt.Chart(df_mem).mark_line(color=GREEN, strokeWidth=1, opacity=0.4).encode(
            x=X, y=alt.Y("value:Q", scale=yscale, axis=yaxis), detail="member:N"),
    ]
    if zero:
        layers.append(alt.Chart(pd.DataFrame({"v": [0]})).mark_rule(color="black", strokeWidth=2.5).encode(
            y=alt.Y("v:Q", scale=yscale, axis=yaxis)))
    if limit is not None:
        layers.append(alt.Chart(pd.DataFrame({"v": limit})).mark_rule(
            color=LIMIT, strokeWidth=2, strokeDash=[2, 2.5]).encode(y=alt.Y("v:Q", scale=yscale, axis=yaxis)))
    layers += [
        alt.Chart(df_main).mark_line(color=AVG, strokeWidth=3, strokeDash=[3, 2]).encode(
            x=X, y=alt.Y("average:Q", scale=yscale, axis=yaxis)),
        alt.Chart(df_main).mark_line(color=BLUE, strokeWidth=3.5).encode(
            x=X, y=alt.Y("control:Q", scale=yscale, axis=yaxis)),
    ]
    layers += common_header(title) + line_legend()
    return alt.layer(*layers).properties(width=W, height=H)


def cover_panel(title):
    half_steps = [s + 0.5 for s in STEPS[:-1]]
    xscale = alt.Scale(domain=[0, 59], nice=False, zero=False)
    yscale = alt.Scale(domain=[0, 100], nice=False, zero=False)
    xaxis = alt.Axis(values=half_steps, labelExpr=day_label_expr(2.5), title=None, grid=True,
                     tickSize=3, labelPadding=3, labelOverlap=False, labelFlush=False)
    yaxis = alt.Axis(values=list(range(0, 101, 10)), title=None, grid=True, tickSize=5, labelPadding=3)
    X = alt.X("step:Q", scale=xscale, axis=xaxis)
    df = pd.DataFrame({"step": STEPS, "control": COVER_CONTROL, "lo": COVER_P25,
                       "hi": COVER_P75, "med": COVER_MEDIAN})
    layers = [
        alt.Chart(df).mark_bar(size=8.3, fill="#ffffb4", stroke="#c2c2c2", strokeWidth=1.3, clip=True).encode(
            x=X, y=alt.Y("hi:Q", scale=yscale, axis=yaxis), y2="lo:Q"),
        alt.Chart(df).mark_tick(orient="horizontal", size=8, thickness=1.2, color="#333333").encode(
            x=X, y=alt.Y("med:Q", scale=yscale, axis=yaxis)),
        alt.Chart(df).mark_line(color=BLUE, strokeWidth=2.5).encode(
            x=X, y=alt.Y("control:Q", scale=yscale, axis=yaxis)),
    ]
    legend = [
        alt.Chart(ONE).mark_square(size=46, fill=BLUE, stroke="#1a1a60", strokeWidth=1, opacity=1).encode(
            x=alt.value(3.5), y=alt.value(-7)),
        txt("control", 11, -3, align="left", baseline="alphabetic", fontSize=10.5, color="black"),
        alt.Chart(ONE).mark_square(size=46, fill="#ffffb4", stroke="black", strokeWidth=1, opacity=1).encode(
            x=alt.value(72.8), y=alt.value(-7)),
        txt("50%", 79.5, -3, align="left", baseline="alphabetic", fontSize=10.5, color="black"),
        alt.Chart(ONE).mark_square(size=46, fill="black", stroke="black", strokeWidth=1, opacity=1).encode(
            x=alt.value(130.5), y=alt.value(-7)),
        txt("median", 138, -3, align="left", baseline="alphabetic", fontSize=10.5, color="black"),
    ]
    layers += common_header(title) + legend
    return alt.layer(*layers).properties(width=W, height=H)


panels = [
    ens_panel(TITLES[0], TEMP_CONTROL, TEMP_AVERAGE, TEMP_MEMBERS, [-10, 20], list(range(-10, 21, 5)), zero=True),
    ens_panel(TITLES[1], DEW_CONTROL, DEW_AVERAGE, DEW_MEMBERS, [-15, 15], list(range(-15, 16, 5))),
    ens_panel(TITLES[2], RAIN_CONTROL, RAIN_AVERAGE, RAIN_MEMBERS, [0, 16], list(range(0, 17, 2))),
    ens_panel(TITLES[3], WIND_CONTROL, WIND_AVERAGE, WIND_MEMBERS, [0, 18], list(range(0, 19, 2)), limit=WIND_LIMIT),
    ens_panel(TITLES[4], GUST_CONTROL, GUST_AVERAGE, GUST_MEMBERS, [0, 26], list(range(0, 27, 2)), limit=GUST_LIMIT),
    cover_panel(TITLES[5]),
]

chart = alt.vconcat(*panels, spacing=37, bounds="flush").properties(
    padding={"left": -1, "top": -21, "right": 0, "bottom": 0}
).configure_view(strokeWidth=0).configure_axis(
    labelFont=FONT, labelFontSize=10, labelColor="black",
    domainColor="black", domainWidth=1, tickColor="black", tickWidth=1,
    gridColor=GRID, gridWidth=1,
)

chart.save("out.html", embed_options={"renderer": "svg", "actions": False})
